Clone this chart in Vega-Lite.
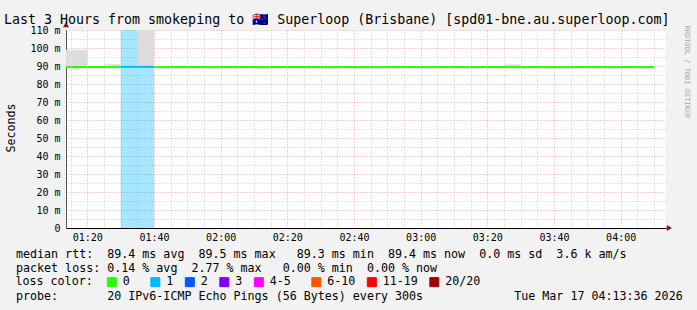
{
  "$schema": "https://vega.github.io/schema/vega-lite/v6.json",
  "width": 600,
  "height": 198,
  "autosize": {"type": "none"},
  "padding": {"left": 66, "top": 30, "right": 31, "bottom": 82},
  "background": "#f2f2f2",
  "config": {
    "view": {"fill": "#ffffff", "stroke": null},
    "font": "DejaVu Sans Mono"
  },
  "title": {
    "text": "Last 3 Hours from smokeping to 🇦🇺 Superloop (Brisbane) [spd01-bne.au.superloop.com]",
    "anchor": "start",
    "frame": "group",
    "font": "DejaVu Sans Mono",
    "fontSize": 13.3,
    "fontWeight": "normal",
    "color": "#000000",
    "baseline": "alphabetic",
    "dx": -62,
    "dy": 17,
    "offset": 2
  },
  "datasets": {
    "steps": [
      {"t0": "2026-03-17T01:10:00Z", "t1": "2026-03-17T01:15:00Z", "median": 89.4, "min": 89.3, "max": 99.0, "loss": "0"},
      {"t0": "2026-03-17T01:15:00Z", "t1": "2026-03-17T01:20:00Z", "median": 89.4, "min": 89.3, "max": 99.0, "loss": "0"},
      {"t0": "2026-03-17T01:20:00Z", "t1": "2026-03-17T01:25:00Z", "median": 89.4, "min": 89.3, "max": 89.6, "loss": "0"},
      {"t0": "2026-03-17T01:25:00Z", "t1": "2026-03-17T01:30:00Z", "median": 89.4, "min": 89.3, "max": 91.0, "loss": "0"},
      {"t0": "2026-03-17T01:30:00Z", "t1": "2026-03-17T01:35:00Z", "median": 89.5, "min": 89.3, "max": 89.8, "loss": "1"},
      {"t0": "2026-03-17T01:35:00Z", "t1": "2026-03-17T01:40:00Z", "median": 89.5, "min": 89.3, "max": 125.0, "loss": "1"},
      {"t0": "2026-03-17T01:40:00Z", "t1": "2026-03-17T01:45:00Z", "median": 89.4, "min": 89.3, "max": 89.5, "loss": "0"},
      {"t0": "2026-03-17T01:45:00Z", "t1": "2026-03-17T01:50:00Z", "median": 89.4, "min": 89.3, "max": 89.5, "loss": "0"},
      {"t0": "2026-03-17T01:50:00Z", "t1": "2026-03-17T01:55:00Z", "median": 89.4, "min": 89.3, "max": 89.5, "loss": "0"},
      {"t0": "2026-03-17T01:55:00Z", "t1": "2026-03-17T02:00:00Z", "median": 89.4, "min": 89.3, "max": 89.5, "loss": "0"},
      {"t0": "2026-03-17T02:00:00Z", "t1": "2026-03-17T02:05:00Z", "median": 89.4, "min": 89.3, "max": 89.6, "loss": "0"},
      {"t0": "2026-03-17T02:05:00Z", "t1": "2026-03-17T02:10:00Z", "median": 89.4, "min": 89.3, "max": 89.5, "loss": "0"},
      {"t0": "2026-03-17T02:10:00Z", "t1": "2026-03-17T02:15:00Z", "median": 89.4, "min": 89.3, "max": 89.5, "loss": "0"},
      {"t0": "2026-03-17T02:15:00Z", "t1": "2026-03-17T02:20:00Z", "median": 89.4, "min": 89.3, "max": 89.5, "loss": "0"},
      {"t0": "2026-03-17T02:20:00Z", "t1": "2026-03-17T02:25:00Z", "median": 89.4, "min": 89.3, "max": 89.5, "loss": "0"},
      {"t0": "2026-03-17T02:25:00Z", "t1": "2026-03-17T02:30:00Z", "median": 89.4, "min": 89.3, "max": 89.5, "loss": "0"},
      {"t0": "2026-03-17T02:30:00Z", "t1": "2026-03-17T02:35:00Z", "median": 89.4, "min": 89.3, "max": 89.6, "loss": "0"},
      {"t0": "2026-03-17T02:35:00Z", "t1": "2026-03-17T02:40:00Z", "median": 89.4, "min": 89.3, "max": 89.5, "loss": "0"},
      {"t0": "2026-03-17T02:40:00Z", "t1": "2026-03-17T02:45:00Z", "median": 89.4, "min": 89.3, "max": 89.5, "loss": "0"},
      {"t0": "2026-03-17T02:45:00Z", "t1": "2026-03-17T02:50:00Z", "median": 89.4, "min": 89.3, "max": 89.5, "loss": "0"},
      {"t0": "2026-03-17T02:50:00Z", "t1": "2026-03-17T02:55:00Z", "median": 89.4, "min": 89.3, "max": 89.5, "loss": "0"},
      {"t0": "2026-03-17T02:55:00Z", "t1": "2026-03-17T03:00:00Z", "median": 89.4, "min": 89.3, "max": 89.5, "loss": "0"},
      {"t0": "2026-03-17T03:00:00Z", "t1": "2026-03-17T03:05:00Z", "median": 89.4, "min": 89.3, "max": 89.6, "loss": "0"},
      {"t0": "2026-03-17T03:05:00Z", "t1": "2026-03-17T03:10:00Z", "median": 89.4, "min": 89.3, "max": 89.5, "loss": "0"},
      {"t0": "2026-03-17T03:10:00Z", "t1": "2026-03-17T03:15:00Z", "median": 89.4, "min": 89.3, "max": 89.5, "loss": "0"},
      {"t0": "2026-03-17T03:15:00Z", "t1": "2026-03-17T03:20:00Z", "median": 89.4, "min": 89.3, "max": 89.5, "loss": "0"},
      {"t0": "2026-03-17T03:20:00Z", "t1": "2026-03-17T03:25:00Z", "median": 89.4, "min": 89.3, "max": 89.5, "loss": "0"},
      {"t0": "2026-03-17T03:25:00Z", "t1": "2026-03-17T03:30:00Z", "median": 89.4, "min": 89.3, "max": 90.9, "loss": "0"},
      {"t0": "2026-03-17T03:30:00Z", "t1": "2026-03-17T03:35:00Z", "median": 89.4, "min": 89.3, "max": 89.5, "loss": "0"},
      {"t0": "2026-03-17T03:35:00Z", "t1": "2026-03-17T03:40:00Z", "median": 89.4, "min": 89.3, "max": 89.5, "loss": "0"},
      {"t0": "2026-03-17T03:40:00Z", "t1": "2026-03-17T03:45:00Z", "median": 89.4, "min": 89.3, "max": 89.5, "loss": "0"},
      {"t0": "2026-03-17T03:45:00Z", "t1": "2026-03-17T03:50:00Z", "median": 89.4, "min": 89.3, "max": 89.5, "loss": "0"},
      {"t0": "2026-03-17T03:50:00Z", "t1": "2026-03-17T03:55:00Z", "median": 89.4, "min": 89.3, "max": 89.5, "loss": "0"},
      {"t0": "2026-03-17T03:55:00Z", "t1": "2026-03-17T04:00:00Z", "median": 89.4, "min": 89.3, "max": 89.5, "loss": "0"},
      {"t0": "2026-03-17T04:00:00Z", "t1": "2026-03-17T04:05:00Z", "median": 89.4, "min": 89.3, "max": 89.5, "loss": "0"},
      {"t0": "2026-03-17T04:05:00Z", "t1": "2026-03-17T04:10:00Z", "median": 89.4, "min": 89.3, "max": 89.5, "loss": "0"}
    ],
    "arrows": [
      {"t": "2026-03-17T01:13:36Z", "v": 113, "dir": "up"},
      {"t": "2026-03-17T04:14:36Z", "v": 0, "dir": "right"}
    ]
  },
  "layer": [
    {
      "data": {"name": "steps"},
      "transform": [{"filter": "datum.loss != '0'"}],
      "mark": {"type": "rect", "clip": true, "opacity": 0.35},
      "encoding": {
        "x": {
          "field": "t0", "type": "temporal",
          "scale": {"type": "utc", "domain": [1773710016000, 1773720816000]},
          "axis": {
            "orient": "top",
            "values": [1773710100000, 1773710700000, 1773711000000, 1773711300000, 1773711900000, 1773712200000, 1773712500000, 1773713100000, 1773713400000, 1773713700000, 1773714300000, 1773714600000, 1773714900000, 1773715500000, 1773715800000, 1773716100000, 1773716700000, 1773717000000, 1773717300000, 1773717900000, 1773718200000, 1773718500000, 1773719100000, 1773719400000, 1773719700000, 1773720300000, 1773720600000],
            "labels": false, "ticks": false, "domain": false, "title": null,
            "grid": true, "gridColor": "#c8c8c8", "gridDash": [1, 2], "gridWidth": 1, "gridOpacity": 1
          }
        },
        "x2": {"field": "t1"},
        "y": {
          "datum": 0, "type": "quantitative",
          "scale": {"domain": [0, 110], "nice": false, "zero": false},
          "axis": {
            "orient": "right", "values": [5, 15, 25, 35, 45, 55, 65, 75, 85, 95, 105],
            "labels": false, "ticks": false, "domain": false,
            "grid": true, "gridColor": "#c8c8c8", "gridDash": [1, 2], "gridWidth": 1, "gridOpacity": 1,
            "title": "RRDTOOL / TOBI OETIKER", "titleAngle": 90, "titleX": 20, "titleY": -5,
            "titleAlign": "left", "titleBaseline": "middle", "titleFont": "DejaVu Sans Mono",
            "titleFontSize": 7, "titleFontWeight": "normal", "titleColor": "#a8a8a8"
          }
        },
        "y2": {"datum": 110},
        "fill": {
          "field": "loss", "type": "nominal",
          "scale": {
            "domain": ["0", "1", "2", "3", "4-5", "6-10", "11-19", "20/20"],
            "range": ["#26ff00", "#00b8ff", "#0059ff", "#7e00ff", "#ff00ff", "#ff5500", "#ff0000", "#a10000"]
          },
          "legend": {
            "title": "loss color:", "orient": "none", "legendX": -50.5, "legendY": 246,
            "direction": "horizontal", "titleOrient": "left",
            "titleFont": "DejaVu Sans Mono", "titleFontSize": 11.66, "titleFontWeight": "normal",
            "titleColor": "#000000", "titlePadding": 12.5,
            "labelFont": "DejaVu Sans Mono", "labelFontSize": 11.66, "labelColor": "#000000",
            "labelOffset": 5, "columnPadding": 9.5, "padding": 0,
            "labelExpr": "datum.label == '0' ? '0\u2800' : datum.label == '4-5' ? '4-5\u2800' : datum.label",
            "symbolType": "square", "symbolSize": 81, "symbolStrokeColor": "#000000",
            "symbolStrokeWidth": 1, "symbolOpacity": 1
          }
        }
      }
    },
    {
      "data": {"name": "steps"},
      "mark": {"type": "rect", "clip": true, "color": "#dddddd"},
      "encoding": {
        "x": {"field": "t0", "type": "temporal", "axis": null},
        "x2": {"field": "t1"},
        "y": {"field": "min", "type": "quantitative", "axis": null},
        "y2": {"field": "max"}
      }
    },
    {
      "data": {"name": "steps"},
      "mark": {"type": "rule", "clip": true, "strokeWidth": 2},
      "encoding": {
        "x": {
          "field": "t0", "type": "temporal",
          "axis": {
            "orient": "bottom",
            "values": [1773710400000, 1773711600000, 1773712800000, 1773714000000, 1773715200000, 1773716400000, 1773717600000, 1773718800000, 1773720000000],
            "format": "%H:%M", "labelOverlap": false, "labelFlush": false,
            "labelFont": "DejaVu Sans Mono", "labelFontSize": 10, "labelColor": "#000000",
            "labelPadding": 4, "ticks": false,
            "domain": true, "domainColor": "#000000", "domainWidth": 1,
            "grid": true, "gridColor": "#f0a0a0", "gridDash": [1, 2], "gridWidth": 1, "gridOpacity": 1,
            "title": [
              "median rtt:\u00a0\u00a089.4 ms avg\u00a0\u00a089.5 ms max\u00a0\u00a0\u00a089.3 ms min\u00a0\u00a089.4 ms now\u00a0\u00a00.0 ms sd\u00a0\u00a03.6 k am/s",
              "packet loss: 0.14 % avg\u00a0\u00a02.77 % max\u00a0\u00a0\u00a00.00 % min\u00a0\u00a00.00 % now",
              "\u2800",
              "probe:\u00a0\u00a0\u00a0\u00a0\u00a0\u00a0\u00a020 IPv6-ICMP Echo Pings (56 Bytes) every 300s\u00a0\u00a0\u00a0\u00a0\u00a0\u00a0\u00a0\u00a0\u00a0\u00a0\u00a0\u00a0\u00a0Tue Mar 17 04:13:36 2026"
            ],
            "titleX": -50.5, "titleY": 29, "titleAlign": "left", "titleBaseline": "alphabetic",
            "titleAngle": 0, "titleLineHeight": 14.3, "titleLimit": 2000,
            "titleFont": "DejaVu Sans Mono", "titleFontSize": 11.66, "titleFontWeight": "normal",
            "titleColor": "#000000"
          }
        },
        "x2": {"field": "t1"},
        "y": {
          "field": "median", "type": "quantitative",
          "axis": {
            "orient": "left", "values": [0, 10, 20, 30, 40, 50, 60, 70, 80, 90, 100, 110],
            "labelExpr": "datum.value == 0 ? '0' : datum.value + ' m'",
            "labelFont": "DejaVu Sans Mono", "labelFontSize": 10, "labelColor": "#000000",
            "labelPadding": 6, "ticks": false,
            "domain": true, "domainColor": "#555555", "domainWidth": 1,
            "grid": true, "gridColor": "#f0a0a0", "gridDash": [1, 2], "gridWidth": 1, "gridOpacity": 1,
            "title": "Seconds", "titleX": -55, "titleY": 97.5, "titleAngle": 270,
            "titleAlign": "center", "titleBaseline": "middle",
            "titleFont": "DejaVu Sans Mono", "titleFontSize": 11.66, "titleFontWeight": "normal",
            "titleColor": "#000000"
          }
        },
        "stroke": {
          "field": "loss", "type": "nominal",
          "scale": {
            "domain": ["0", "1", "2", "3", "4-5", "6-10", "11-19", "20/20"],
            "range": ["#26ff00", "#00b8ff", "#0059ff", "#7e00ff", "#ff00ff", "#ff5500", "#ff0000", "#a10000"]
          },
          "legend": null
        }
      }
    },
    {
      "data": {"name": "arrows"},
      "mark": {"type": "point", "filled": true, "size": 36, "color": "#8b1010", "opacity": 1},
      "encoding": {
        "x": {"field": "t", "type": "temporal", "axis": null},
        "y": {"field": "v", "type": "quantitative", "axis": null},
        "shape": {
          "field": "dir", "type": "nominal",
          "scale": {"domain": ["up", "right"], "range": ["triangle-up", "triangle-right"]},
          "legend": null
        }
      }
    }
  ],
  "resolve": {"axis": {"x": "independent", "y": "independent"}}
}
